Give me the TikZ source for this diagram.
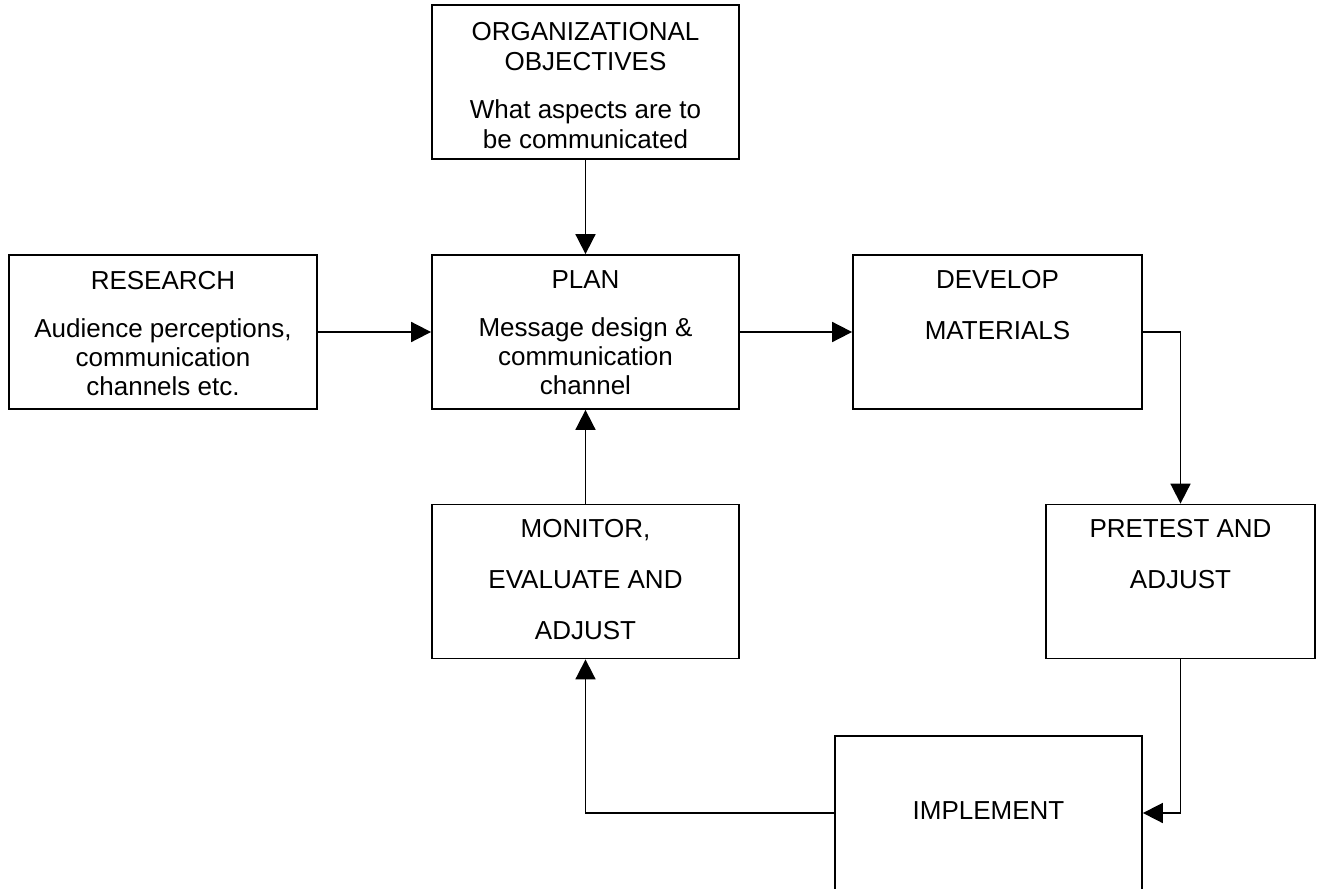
\documentclass[tikz,border=0pt]{standalone}
\usepackage{fontspec}
\setmainfont{Liberation Sans}
\usetikzlibrary{arrows.meta}

% box text: width, line pitch, gap above first line, lines
\newcommand{\boxtext}[4]{\parbox[c][77pt][t]{#1}{\centering\fontsize{13pt}{#2}\selectfont\vspace*{#3}#4}}

\begin{document}
\begin{tikzpicture}[node distance=125pt, >={Triangle[length=10pt, width=10pt]}, block/.style={rectangle, draw, line width=0.9pt, inner sep=0pt}, link/.style={->, line width=0.9pt}]

\useasboundingbox (-292.75pt,-278pt) rectangle (367.25pt,166pt);

\node[block] (plan) {\boxtext{153.5pt}{14.5pt}{8pt}{PLAN\\[9.5pt]Message design \&\\communication\\channel}};
\node[block, above of=plan] (org) {\boxtext{153.5pt}{15pt}{8.5pt}{ORGANIZATIONAL\\OBJECTIVES\\[9pt]What aspects are to\\be communicated}};
\node[block, left of=plan, node distance=211.25pt] (research) {\boxtext{154pt}{14.5pt}{8pt}{RESEARCH\\[9.5pt]Audience perceptions,\\communication\\channels etc.}};
\node[block, right of=plan, node distance=206pt] (develop) {\boxtext{144.5pt}{25.5pt}{7.5pt}{DEVELOP\\MATERIALS}};
\node[block, below of=plan, node distance=124.75pt] (monitor) {\boxtext{153.5pt}{25.5pt}{7.5pt}{MONITOR,\\EVALUATE AND\\ADJUST}};
\node[block, right of=monitor, node distance=297.5pt] (pretest) {\boxtext{134.5pt}{25.5pt}{7.5pt}{PRETEST AND\\ADJUST}};
\node[block, below of=develop, node distance=240.5pt, xshift=-4.5pt] (implement) {\boxtext{153.5pt}{25.5pt}{33pt}{IMPLEMENT}};

\draw[link] (org) -- (plan);
\draw[link] (research) -- (plan);
\draw[link] (plan) -- (develop);
\draw[link] (develop) -| (pretest);
\draw[link] (pretest) |- (implement);
\draw[link] (implement) -| (monitor);
\draw[link] (monitor) -- (plan);

\end{tikzpicture}
\end{document}
